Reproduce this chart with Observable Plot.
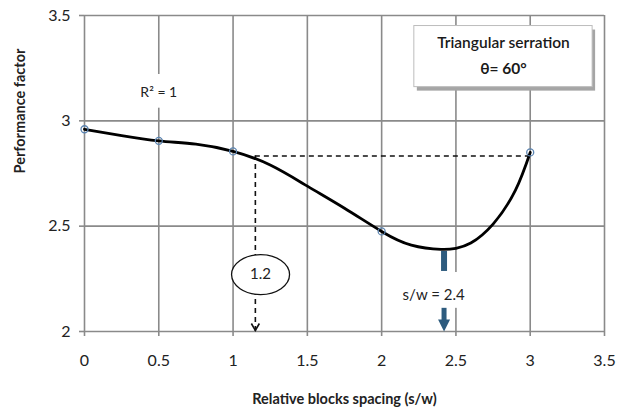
<!DOCTYPE html>
<html><head><meta charset="utf-8">
<script src="https://cdn.jsdelivr.net/npm/d3@7"></script>
<script src="https://cdn.jsdelivr.net/npm/@observablehq/plot@0.6"></script>
<style>body{margin:0;background:#fff;} #chart{width:624px;height:414px;}</style>
</head><body><div id="chart"></div>
<script>
// Data
const pointX = [0, 0.5, 1, 2, 3];
const pointY = [2.96, 2.905, 2.855, 2.475, 2.85];
// Trend line (polynomial fit, R² = 1)
const curveX = [0, 0.25, 0.5, 0.75, 1, 1.25, 1.5, 1.75, 2, 2.2, 2.4, 2.5, 2.6, 2.75, 2.9, 3];
const curveY = [2.96, 2.93, 2.905, 2.889, 2.855, 2.79, 2.69, 2.585, 2.475, 2.41, 2.39, 2.395, 2.42, 2.51, 2.67, 2.85];
const xTicks = [0, 0.5, 1, 1.5, 2, 2.5, 3, 3.5];
const yTicks = [2, 2.5, 3, 3.5];
const xLabel = "Relative blocks spacing (s/w)";
const yLabel = "Performance factor";
const boxLines = ["Triangular serration", "θ= 60°"];
const rSquared = "R² = 1";
const intersectX = 1.15, intersectY = 2.833, intersectText = "1.2";
const optimumX = 2.42, optimumY = 2.39, optimumText = "s/w = 2.4";

const points = pointX.map((x, i) => ({x, y: pointY[i]}));
const curve = curveX.map((x, i) => ({x, y: curveY[i]}));

const FONT = "Lato, 'Open Sans', sans-serif";
const BLUE = "#2d5b7e";

const ellipseSymbol = {
  draw(ctx, size) {
    const r = Math.sqrt(size / Math.PI), rx = r * 1.45, ry = r, k = 0.5523;
    ctx.moveTo(rx, 0);
    ctx.bezierCurveTo(rx, ry * k, rx * k, ry, 0, ry);
    ctx.bezierCurveTo(-rx * k, ry, -rx, ry * k, -rx, 0);
    ctx.bezierCurveTo(-rx, -ry * k, -rx * k, -ry, 0, -ry);
    ctx.bezierCurveTo(rx * k, -ry, rx, -ry * k, rx, 0);
    ctx.closePath();
  }
};
const downTriangle = {
  draw(ctx, size) {
    const r = Math.sqrt(size / Math.PI);
    ctx.moveTo(-r, -r); ctx.lineTo(r, -r); ctx.lineTo(0, r); ctx.closePath();
  }
};
const vee = {
  draw(ctx, size) {
    const r = Math.sqrt(size / Math.PI);
    ctx.moveTo(-r * 0.8, -r * 1.4); ctx.lineTo(0, 0); ctx.lineTo(r * 0.8, -r * 1.4);
  }
};

const chart = Plot.plot({
  width: 624, height: 414,
  marginLeft: 84, marginRight: 20, marginTop: 15, marginBottom: 83,
  style: {fontFamily: FONT, color: "#222", background: "white"},
  x: {domain: [0, 3.5]},
  y: {domain: [2, 3.5]},
  marks: [
    Plot.gridX(xTicks, {stroke: "#8a8a8a", strokeOpacity: 1, strokeWidth: 1.6}),
    Plot.gridY(yTicks, {stroke: "#8a8a8a", strokeOpacity: 1, strokeWidth: 1.6}),
    Plot.axisX({ticks: xTicks, tickSize: 5, tickPadding: 18, fontSize: 16, label: null,
      tickFormat: d => String(d), stroke: "#8a8a8a", strokeWidth: 1.6}),
    Plot.axisY({ticks: yTicks, tickSize: 5, tickPadding: 9, fontSize: 16, label: null,
      tickFormat: d => String(d), stroke: "#8a8a8a", strokeWidth: 1.6}),
    // white gap behind R² label
    Plot.rect([0], {x1: 0.38, x2: 0.62, y1: 3.06, y2: 3.22, fill: "white"}),
    Plot.text([rSquared], {x: 0.5, y: 3.135, text: d => d, fontSize: 14, fill: "#222"}),
    // text box with shadow
    Plot.rect([0], {x1: 2.22, x2: 3.42, y1: 3.16, y2: 3.45, fill: "#a5a5a5", dx: 3, dy: 4}),
    Plot.rect([0], {x1: 2.22, x2: 3.42, y1: 3.16, y2: 3.45, fill: "white", stroke: "#bdbdbd", strokeWidth: 1}),
    Plot.text([boxLines[0]], {x: 2.82, y: 3.37, text: d => d, fontSize: 15.5, fill: "#1a1a1a", fontWeight: 600}),
    Plot.text([boxLines[1]], {x: 2.82, y: 3.245, text: d => d, fontSize: 15.5, fill: "#1a1a1a", fontWeight: "bold"}),
    // dashed guide lines
    Plot.ruleY([intersectY], {x1: intersectX, x2: 3, stroke: "#111", strokeWidth: 1.6, strokeDasharray: "5,4"}),
    Plot.ruleX([intersectX], {y1: 2, y2: intersectY, stroke: "#111", strokeWidth: 1.6, strokeDasharray: "5,4"}),
    Plot.dot([0], {x: intersectX, y: 2, symbol: vee, r: 5, stroke: "#111", strokeWidth: 1.6, fill: "none", dy: -1}),
    // ellipse label 1.2
    Plot.dot([0], {x: 1.185, y: 2.27, symbol: ellipseSymbol, r: 20, fill: "white", stroke: "#111", strokeWidth: 1.3}),
    Plot.text([intersectText], {x: 1.185, y: 2.27, text: d => d, fontSize: 15, fill: "#222"}),
    // optimum arrow with white label box
    Plot.rect([0], {x1: 2.05, x2: 2.65, y1: 2.11, y2: 2.28, fill: "white"}),
    Plot.ruleX([optimumX], {y1: optimumY - 0.01, y2: 2.285, stroke: BLUE, strokeWidth: 6}),
    Plot.text([optimumText], {x: 2.35, y: 2.17, text: d => d, fontSize: 15, fill: "#222"}),
    Plot.ruleX([optimumX], {y1: 2.04, y2: 2.11, stroke: BLUE, strokeWidth: 5}),
    Plot.dot([0], {x: optimumX, y: 2, symbol: downTriangle, r: 6, fill: BLUE, dy: -6}),
    // trend line and data points
    Plot.line(curve, {x: "x", y: "y", curve: "natural", stroke: "#000", strokeWidth: 2.8}),
    Plot.dot(points, {x: "x", y: "y", r: 3.5, stroke: "#5b84b1", strokeWidth: 1.3, fill: "none"}),
    // axis titles
    Plot.text([xLabel], {frameAnchor: "bottom", dy: 72, text: d => d, fontSize: 14.5, fontWeight: "bold", fill: "#222"}),
    Plot.text([yLabel], {frameAnchor: "left", dx: -64, rotate: -90, text: d => d, fontSize: 14.5, fontWeight: "bold", fill: "#222"})
  ]
});
document.getElementById("chart").append(chart);
</script>
</body></html>
